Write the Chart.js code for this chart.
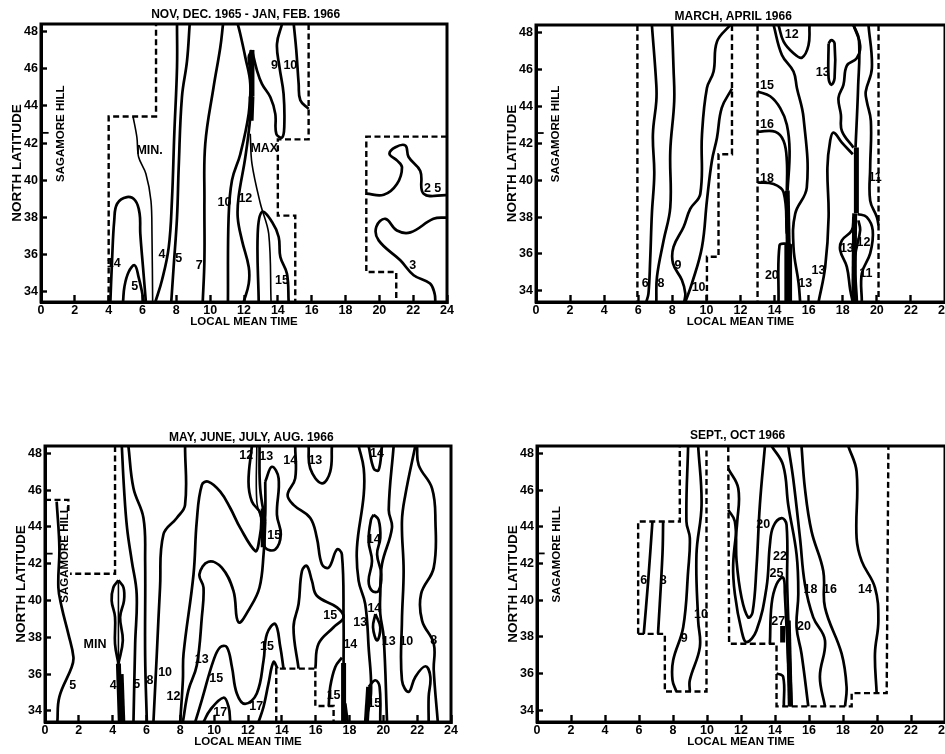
<!DOCTYPE html>
<html>
<head>
<meta charset="utf-8">
<title>Sagamore Hill</title>
<script src="https://cdn.jsdelivr.net/npm/chart.js@4"></script>
<style>
    html, body { margin: 0; padding: 0; background: #fff; overflow: hidden; width: 945px; height: 754px; }
    canvas { position: absolute; filter: blur(0.4px); }
</style>
</head>
<body>
<canvas id="chartWinter"></canvas>
<canvas id="chartSpring"></canvas>
<canvas id="chartSummer"></canvas>
<canvas id="chartAutumn"></canvas>
<script>
const hourTicks = [0, 2, 4, 6, 8, 10, 12, 14, 16, 18, 20, 22, 24];
const latTicks = [34, 36, 38, 40, 42, 44, 46, 48];
const sagamoreMark = [[0, 42.55], [0.45, 42.55]];

// Nov-Feb
const winterDashed = [
    [[4, 33.46], [4, 43.43], [6.8, 43.43], [6.8, 48.4]],
    [[15.82, 48.4], [15.82, 42.2], [14, 42.2], [14, 38.1], [15.03, 38.1], [15.03, 33.46]],
    [[24, 42.35], [19.23, 42.35], [19.23, 35.07], [21, 35.07], [21, 33.46]]
];
const winterThin = [
    [[5.44, 43.43], [5.67, 42.3], [5.77, 41.25], [6.2, 40.35], [6.5, 38.9], [6.56, 37.1], [6.6, 33.46]],
    [[12.37, 42.5], [12.47, 40.9], [12.97, 38.74], [13.46, 37.13], [13.6, 33.46]]
];
const winterLines = [
    [[4.1, 33.46], [4.2, 35.7], [4.33, 37.85], [4.5, 38.74], [5.08, 39.1], [5.58, 38.9], [5.83, 38.2], [5.87, 37.13], [6.03, 35.34], [6.2, 33.46]],
    [[4.85, 33.46], [4.93, 34.27], [5.18, 35.07], [5.54, 35.43], [5.77, 34.8], [5.97, 34], [6.07, 33.46]],
    [[6.76, 33.46], [7.15, 34.63], [7.55, 36.4], [7.74, 38.92], [7.88, 42.5], [8.04, 46.07], [8.04, 48.4]],
    [[7.7, 33.46], [7.84, 35.34], [8.04, 38], [8.14, 40.7], [8.33, 44.46], [8.63, 46.4], [8.79, 48.4]],
    [[9.56, 33.46], [9.66, 35.7], [9.66, 38.9], [9.71, 41.96], [10.2, 45], [10.6, 47.15], [10.76, 48.4]],
    [[11.05, 33.46], [11.09, 38], [11.29, 40], [11.78, 41.4], [12.28, 43.6], [12.37, 45.2], [12.08, 46.6], [11.78, 47.86], [11.63, 48.4]],
    [[11.98, 33.46], [12.28, 34.45], [12.28, 35.34], [11.88, 36.77], [11.63, 38], [11.68, 39.1], [12.08, 41.25], [12.37, 43.4], [12.47, 45.36], [12.28, 46.6], [12.47, 47]],
    [[12.47, 47], [12.77, 45.9], [13.06, 45.18], [13.56, 44.46], [13.85, 43.57], [13.91, 42.5], [14.25, 42.3], [14.38, 42.86], [14.34, 44.64], [14.1, 46.07], [13.95, 47.33], [14.25, 48.4]],
    [[14.94, 48.4], [15.09, 47], [15.23, 45.2], [15.33, 44.3], [15.82, 43.84]],
    [[12.87, 33.46], [12.81, 37.13], [13.06, 38.3], [13.66, 37.76], [14.05, 36.95], [14.15, 35.88], [14.54, 34.98], [14.64, 33.46]],
    [[19.23, 39.28], [20.26, 39.22], [21.04, 39.8], [21.34, 40.7], [21.04, 41.07], [20.6, 41.42], [20.95, 41.78], [21.54, 41.87], [21.73, 41.25], [22.42, 40.5], [22.62, 39.28], [24, 39.2]],
    [[24, 38], [23.2, 37.93], [21.84, 37.2], [21.04, 37.3], [20.36, 37.93], [19.82, 37.5], [19.96, 36.77], [21.24, 35.7], [22.03, 34.9], [23, 34.45], [23.27, 33.9], [23.31, 33.46]]
];
const winterThick = [
    [[12.47, 47], [12.47, 44.5]],
    [[12.47, 44.5], [12.42, 43.2]]
];
const winterLabels = [
    ['14', 4.3, 35.5], ['5', 5.54, 34.27], ['4', 7.15, 36.02], ['5', 8.14, 35.79], ['7', 9.36, 35.43],
    ['10', 10.84, 38.79], ['12', 12.08, 39], ['9', 13.8, 46.16], ['10', 14.74, 46.16], ['15', 14.25, 34.59],
    ['2 5', 23.15, 39.58], ['3', 21.97, 35.4], ['MIN.', 6.42, 41.6], ['MAX', 13.2, 41.7],
    ['NOV, DEC. 1965 - JAN, FEB. 1966', 12.1, 48.88]
];

// Mar-Apr
const springDashed = [
    [[5.95, 48.4], [5.95, 33.4]],
    [[11.5, 48.4], [11.5, 41.4], [10.71, 41.4], [10.71, 35.85], [10.03, 35.85], [10.03, 33.4]],
    [[13, 48.4], [13, 33.4]],
    [[20.1, 48.4], [20.1, 33.4]]
];
const springThin = [];
const springLines = [
    [[6.8, 48.4], [7.06, 45.16], [7.06, 44.27], [6.86, 42.48], [6.94, 40.33], [6.8, 38.18], [6.7, 35.67], [6.6, 33.87], [6.47, 33.4]],
    [[7.98, 48.4], [8.07, 46.06], [8.11, 44.27], [7.88, 41.58], [7.88, 38.53], [7.49, 36.74], [7.1, 34.77], [7.06, 33.4]],
    [[11.4, 48.4], [10.62, 47.5], [10.42, 45.88], [10.03, 44.99], [9.74, 42.48], [9.64, 39.25], [9.05, 38.44], [8.66, 37.46], [8.07, 36.38], [8.04, 35.49], [8.56, 34.59], [8.76, 33.87], [8.7, 33.4]],
    [[11.5, 44.95], [10.9, 43.91], [10.62, 42.3], [10.32, 41.04], [10.03, 38.89], [9.74, 36.38], [9.15, 34.41], [8.76, 33.4]],
    [[14.23, 48.4], [14.53, 47.5], [15.11, 46.87], [15.6, 46.63], [15.99, 47.3], [16.05, 48.4]],
    [[13, 44.8], [13.74, 44.54], [14.33, 43.9], [14.72, 43], [14.88, 41.58], [14.76, 39.43]],
    [[13, 42.62], [14.04, 42.62], [14.53, 42.12], [14.72, 41.04], [14.72, 39.43]],
    [[13, 39.88], [13.94, 39.79], [14.53, 39.34], [14.72, 37.1]],
    [[14.23, 33.4], [14.29, 36.47], [14.62, 36.56], [15, 36.47]],
    [[13.94, 48.4], [14.43, 46.78], [15.11, 45.88], [15.31, 44.99], [15.7, 43.37], [15.89, 39.6], [15.21, 38.18], [15.11, 36.38], [15.41, 34.41], [15.5, 33.4]],
    [[17.17, 47.4], [17.33, 47.58], [17.52, 47.4], [17.52, 45.52], [17.33, 45.16], [17.17, 45.52], [17.17, 47.4]],
    [[16.58, 33.4], [16.97, 35.3], [17.17, 38], [17.1, 40.68], [17.26, 42.12], [17.46, 42.57], [17.95, 42.03], [18.59, 41.4]],
    [[18.63, 48.4], [19.02, 47.3], [18.82, 46.6], [18.24, 46.2], [18.04, 45.16], [17.75, 44.45], [17.89, 43.55], [17.95, 42.66], [18.63, 41.76]],
    [[18.63, 48.4], [18.95, 47.6], [18.9, 45], [18.75, 41.76]],
    [[19.51, 48.4], [19.71, 46.06], [19.35, 44.8], [19.41, 44.27], [19.65, 43.2], [19.61, 40.68], [19.61, 38.89], [20, 38], [20.1, 37.55]],
    [[18.87, 38.17], [19.41, 38], [19.76, 37.28], [19.61, 36.03], [19.12, 34.95], [19.12, 33.4]],
    [[18.92, 37.82], [19.02, 37.28], [18.73, 35.85], [18.83, 33.4]],
    [[18.63, 38], [18.53, 37.28], [17.95, 36.74], [17.85, 36.2], [18.24, 35.3], [18.44, 34.05], [18.59, 33.4]]
];
const springThick = [
    [[14.72, 36.5], [14.72, 33.4]],
    [[14.88, 36.5], [14.88, 33.4]],
    [[14.74, 39.43], [14.8, 36.5]],
    [[18.8, 41.76], [18.8, 38.2]],
    [[18.7, 38.2], [18.65, 33.4]]
];
const springLabels = [
    ['6', 6.41, 34.38], ['8', 7.33, 34.41], ['9', 8.33, 35.36], ['10', 9.54, 34.2], ['15', 13.55, 45.11],
    ['16', 13.55, 43.01], ['18', 13.55, 40.06], ['12', 15.01, 47.89], ['13', 16.83, 45.85], ['20', 13.84, 34.81],
    ['13', 15.8, 34.38], ['13', 16.58, 35.09], ['13', 18.24, 36.29], ['12', 19.22, 36.6], ['11', 19.35, 34.95],
    ['11', 19.9, 40.15], ['MARCH, APRIL 1966', 11.57, 48.85]
];

// May-Aug
const summerDashed = [
    [[0, 45.47], [1.38, 45.47], [1.38, 44.8]],
    [[4.14, 48.4], [4.14, 41.46], [1.48, 41.46]],
    [[13.67, 33.4], [13.67, 36.3], [15.98, 36.3], [15.98, 34.27], [17.06, 34.27], [17.06, 33.4]]
];
const summerThin = [
    [[4.34, 41.1], [4.34, 36.57]],
    [[12.52, 48.4], [12.52, 45.38], [12.82, 44.31]]
];
const summerLines = [
    [[0.73, 33.4], [0.85, 34.77], [1.58, 36.39], [1.68, 36.93], [1.38, 38.19], [0.99, 39.63], [0.79, 40.71], [0.85, 42.87], [0.69, 45.38]],
    [[4.34, 41.1], [4.64, 40.71], [4.67, 40], [4.44, 39.1], [4.6, 37.83], [4.34, 36.57]],
    [[4.34, 41.1], [4.04, 40.71], [3.94, 40], [4.14, 39.1], [4.14, 37.65], [4.34, 36.57]],
    [[4.54, 48.4], [4.67, 46.1], [4.85, 43.95], [5.13, 42.15], [5.42, 40.35], [5.33, 37.65], [5.23, 33.4]],
    [[4.93, 48.4], [5.23, 46.1], [5.82, 44.49], [5.92, 42.15], [5.92, 37], [6.02, 33.4]],
    [[8.28, 48.4], [8.28, 45.2], [7.79, 44.49], [7, 43.59], [6.8, 40.71], [6.61, 37.11], [6.41, 33.4]],
    [[7.99, 33.4], [8.15, 35.67], [8.19, 37.11], [8.78, 41.43], [8.97, 44.3], [9.27, 46.28], [9.66, 46.46], [10.36, 45.92], [10.95, 45.03], [11.54, 43.95], [12.43, 42.69], [12.62, 43.05], [12.76, 44.67], [12.23, 45.38], [12.03, 46.46], [12.23, 48.4]],
    [[8.15, 33.4], [8.48, 35.13], [8.97, 36.47], [9.27, 39.09], [9.37, 40.71], [9.13, 41.43], [9.66, 42.11], [10.45, 41.79], [11.14, 40.53], [11.44, 38.82], [12.13, 39.63], [12.68, 40.71], [12.92, 42.51], [13.02, 44.31]],
    [[8.88, 33.4], [9.27, 34.59], [9.96, 36.75], [10.36, 37.47], [10.75, 37.47], [11.05, 36.39], [11.34, 34.95], [11.83, 34.38], [12.52, 34.95], [12.92, 36.75], [13.12, 38.19], [13.61, 38.73], [13.91, 37.47], [14.1, 36.3]],
    [[9.37, 33.4], [9.76, 34.05], [10.55, 34.72], [10.85, 34.23], [10.95, 33.4]],
    [[12.62, 33.4], [12.92, 34.23], [13.21, 35.49], [13.51, 36.66], [13.75, 36.3]],
    [[12.68, 48.4], [12.72, 46.1], [13.02, 44.31]],
    [[13.02, 46.46], [13.41, 47.27], [13.81, 46.64], [13.71, 44.67], [13.94, 43.59], [13.61, 42.78], [13.02, 42.87], [12.92, 43.59], [13.02, 44.67], [13.02, 46.46]],
    [[14.79, 48.4], [14.79, 46.64], [14.34, 45.74], [14.69, 45.2], [15.68, 44.49], [16.07, 43.41], [16.37, 41.97], [16.77, 41.79], [17.26, 42.78], [17.55, 42.51], [17.65, 38.91], [17.65, 36.6]],
    [[14.99, 36.3], [14.69, 38.55], [14.99, 39.81], [15.19, 41.61], [15.48, 41.88], [15.78, 41.07], [16.07, 40.26], [17.26, 39.63], [17.65, 39.09], [17.06, 38.55], [16.17, 37.65], [15.98, 36.3]],
    [[15.58, 48.4], [15.68, 47.18], [16.37, 46.37], [16.86, 47], [16.96, 48.4]],
    [[16.77, 34.23], [16.86, 35.31], [17.16, 36.39], [17.55, 36.9]],
    [[17.75, 34.41], [17.89, 33.4]],
    [[18.54, 48.4], [18.84, 47.18], [18.84, 45.74], [18.44, 42.87], [18.54, 41.07], [18.93, 39.81], [19.13, 37.47], [19.27, 34.95], [18.93, 33.4]],
    [[19.13, 48.4], [19.43, 47.18], [19.72, 47.09], [19.92, 48.4]],
    [[20.61, 48.4], [20.32, 44.94], [20.51, 43.95], [19.92, 41.97], [19.82, 40.35], [19.82, 39.27], [20.02, 38.01], [20.22, 33.4]],
    [[21.89, 48.4], [21.3, 45.74], [21.1, 44.31], [21.2, 41.61], [21.1, 38.91], [21.1, 35.67], [21.5, 35.04], [21.89, 35.85], [22.49, 36.43], [22.78, 35.85], [22.68, 34.77], [22.68, 33.4]],
    [[21.99, 48.4], [22.09, 47.36], [22.88, 46.1], [23.08, 44.31], [22.98, 41.79], [22.23, 40.35], [22.29, 38.91], [22.98, 37.65], [22.98, 36.21], [23.22, 33.4]],
    [[19.43, 44.67], [19.72, 44.39], [19.82, 43.41], [19.63, 42.51], [19.88, 41.43], [19.72, 40.53], [19.33, 40.53], [19.13, 41.07], [19.33, 42.15], [19.13, 43.23], [19.27, 44.39], [19.43, 44.67]],
    [[19.53, 39.27], [19.82, 38.55], [19.63, 37.83], [19.39, 38.55], [19.53, 39.27]],
    [[19.13, 35.31], [19.53, 35.67], [19.78, 35.31], [19.82, 33.4]]
];
const summerThick = [
    [[4.34, 36.57], [4.45, 33.4]],
    [[4.5, 36], [4.6, 33.4]],
    [[12.9, 45], [12.9, 42.9]],
    [[17.65, 36.6], [17.65, 33.4]],
    [[19.13, 35.31], [19, 33.4]]
];
const summerLabels = [
    ['12', 11.89, 47.9], ['13', 13.08, 47.81], ['14', 14.5, 47.63], ['13', 15.98, 47.63], ['14', 19.63, 47.99],
    ['15', 13.55, 43.55], ['14', 19.43, 43.32], ['15', 16.86, 39.18], ['14', 19.47, 39.59], ['13', 18.64, 38.82],
    ['14', 18.05, 37.62], ['13', 20.32, 37.79], ['10', 21.36, 37.79], ['8', 22.98, 37.83], ['15', 13.12, 37.51],
    ['13', 9.27, 36.79], ['15', 10.12, 35.76], ['10', 7.1, 36.09], ['8', 6.21, 35.67], ['5', 5.42, 35.46],
    ['4', 4.04, 35.4], ['12', 7.59, 34.81], ['17', 10.36, 33.91], ['17', 12.49, 34.23], ['15', 17.06, 34.83],
    ['15', 19.47, 34.41], ['5', 1.64, 35.4], ['MIN', 2.96, 37.62], ['MAY, JUNE, JULY, AUG. 1966', 12.2, 48.85]
];

// Sep-Oct
const autumnDashed = [
    [[5.95, 38.17], [5.95, 44.29], [8.4, 44.29], [8.4, 48.4]],
    [[5.95, 38.17], [7.52, 38.17], [7.52, 35.03], [9.97, 35.03], [9.97, 48.4]],
    [[11.25, 48.4], [11.3, 37.63], [14.09, 37.63], [14.09, 34.22], [18.51, 34.22], [18.51, 34.94], [20.57, 34.94], [20.67, 48.4]]
];
const autumnThin = [];
const autumnLines = [
    [[6.28, 38.17], [6.54, 41.05], [6.79, 44.29]],
    [[7.12, 38.17], [7.38, 42.49], [7.42, 44.29]],
    [[8.89, 48.4], [8.79, 44.29], [8.99, 43.39], [8.89, 41.59], [8.6, 38.53], [8.01, 36.73], [7.97, 35.65], [8.2, 35.03]],
    [[9.48, 48.4], [9.68, 45.19], [9.38, 42.49], [9.48, 38.89], [9.58, 37.45], [8.99, 35.65], [8.99, 35.03]],
    [[11.25, 44.92], [11.64, 44.29], [11.74, 42.13], [12.03, 40.15], [12.42, 39.07], [12.68, 39.34], [12.91, 41.77], [13.11, 45.19], [13.41, 48.4]],
    [[11.25, 47.17], [11.84, 46.09], [11.78, 44.29], [11.54, 41.95], [11.64, 40.33], [12.03, 38.35], [12.33, 37.72], [12.91, 38.35], [13.5, 40.69], [13.7, 43.03], [13.9, 44.02], [14.39, 44.47], [14.68, 44.11], [14.72, 40.69], [14.98, 34.22]],
    [[13.8, 48.4], [14.48, 47.35], [14.78, 45.19], [15.27, 42.49], [15.37, 40.33], [15.27, 38.53], [15.56, 37.09], [15.96, 34.22]],
    [[14.78, 48.4], [15.07, 46.63], [15.47, 43.39], [15.76, 40.87], [16.25, 39.07], [16.94, 37.81], [16.64, 35.83], [16.94, 34.22]],
    [[15.56, 48.4], [15.76, 46.09], [16.15, 43.75], [16.84, 41.59], [16.94, 39.61], [17.92, 37.09], [18.21, 35.29], [18.12, 34.22]],
    [[18.31, 48.4], [18.8, 47], [18.8, 43.39], [19.1, 42.13], [19.88, 40.69], [20.08, 38.89], [19.88, 37.09], [19.98, 34.94]],
    [[13.7, 37.63], [13.8, 39.79], [14.09, 40.87], [14.48, 41.23], [14.58, 40.33], [14.9, 34.22]],
    [[14.09, 36.02], [14.48, 35.83], [14.52, 34.22]]
];
const autumnThick = [
    [[14.78, 38.9], [14.9, 34.22]],
    [[14.45, 38.6], [14.45, 37.7]]
];
const autumnLabels = [
    ['6', 6.28, 41.09], ['8', 7.42, 41.09], ['9', 8.66, 37.9], ['10', 9.64, 39.2], ['20', 13.31, 44.11],
    ['22', 14.29, 42.4], ['25', 14.09, 41.45], ['27', 14.19, 38.86], ['20', 15.7, 38.57], ['18', 16.09, 40.6],
    ['16', 17.23, 40.6], ['14', 19.29, 40.6], ['SEPT., OCT 1966', 11.8, 48.95]
];

const fontFamily = '"Liberation Sans", Arial, sans-serif';

// contour numbers, titles and the station name, placed on the data scales
const textPlugin = {
    id: 'panelText',
    afterDraw(chart, args, opts) {
        const { ctx, chartArea, scales } = chart;
        ctx.save();
        ctx.strokeStyle = '#000';
        ctx.lineWidth = 3;
        ctx.strokeRect(chartArea.left, chartArea.top, chartArea.width, chartArea.height);
        ctx.fillStyle = '#000';
        ctx.textAlign = 'center';
        ctx.textBaseline = 'middle';
        opts.labels.forEach(l => {
            ctx.font = (l[0].length > 4 ? 'bold 12px ' : 'bold 12.5px ') + fontFamily;
            ctx.fillText(l[0], scales.x.getPixelForValue(l[1]), scales.y.getPixelForValue(l[2]));
        });
        ctx.font = 'bold 11.5px ' + fontFamily;
        ctx.translate(scales.x.getPixelForValue(1.16), scales.y.getPixelForValue(42.5));
        ctx.rotate(-Math.PI / 2);
        ctx.fillText('SAGAMORE HILL', 0, 0);
        ctx.restore();
    }
};

function lineSets(groups, width, dash, tension) {
    return groups.map(pts => ({
        data: pts.map(p => ({ x: p[0], y: p[1] })),
        showLine: true,
        borderColor: '#000',
        borderWidth: width,
        borderDash: dash,
        tension: tension,
        pointRadius: 0,
        fill: false
    }));
}

function drawPanel(id, box, latMin, dashed, thin, lines, thick, labels) {
    const el = document.getElementById(id);
    const gapLeft = 40, gapTop = 24, gapRight = 20, gapBottom = 32;
    el.width = box.right - box.left + gapLeft + gapRight;
    el.height = box.bottom - box.top + gapTop + gapBottom;
    el.style.left = (box.left - gapLeft) + 'px';
    el.style.top = (box.top - gapTop) + 'px';

    new Chart(el, {
        type: 'scatter',
        data: {
            datasets: [
                ...lineSets(dashed, 2.4, [6, 3.5], 0),
                ...lineSets(thin, 1.6, [], 0.35),
                ...lineSets(lines, 2.7, [], 0.4),
                ...lineSets(thick, 5, [], 0),
                ...lineSets([sagamoreMark], 1.8, [], 0)
            ]
        },
        options: {
            responsive: false,
            animation: false,
            layout: { autoPadding: false, padding: { top: gapTop, right: gapRight, left: 0, bottom: 0 } },
            plugins: { legend: { display: false }, tooltip: { enabled: false }, panelText: { labels: labels } },
            scales: {
                x: {
                    type: 'linear', min: 0, max: 24,
                    afterBuildTicks: s => { s.ticks = hourTicks.map(v => ({ value: v })); },
                    afterFit: s => { s.height = gapBottom; },
                    grid: { drawOnChartArea: false, tickLength: -7, tickWidth: 2.4, tickColor: '#000' },
                    border: { color: '#000', width: 3 },
                    ticks: { color: '#000', font: { family: 'Liberation Sans', size: 12.5, weight: 'bold' }, padding: 8, maxRotation: 0, autoSkip: false },
                    title: { display: true, text: 'LOCAL MEAN TIME', color: '#000', font: { family: 'Liberation Sans', size: 11.5, weight: 'bold' }, padding: { top: 0, bottom: 5 } }
                },
                y: {
                    type: 'linear', min: latMin, max: 48.4,
                    afterBuildTicks: s => { s.ticks = latTicks.map(v => ({ value: v })); },
                    afterFit: s => { s.width = gapLeft; },
                    grid: { drawOnChartArea: false, tickLength: -6, tickWidth: 2.4, tickColor: '#000' },
                    border: { color: '#000', width: 3 },
                    ticks: { color: '#000', font: { family: 'Liberation Sans', size: 12.5, weight: 'bold' }, padding: 9, autoSkip: false },
                    title: { display: true, text: 'NORTH LATITUDE', color: '#000', font: { family: 'Liberation Sans', size: 13.5, weight: 'bold' }, padding: { top: 8, bottom: 0 } }
                }
            }
        },
        plugins: [textPlugin]
    });
}

drawPanel('chartWinter', { left: 41, right: 447, top: 24, bottom: 302 }, 33.46, winterDashed, winterThin, winterLines, winterThick, winterLabels);
drawPanel('chartSpring', { left: 536, right: 945, top: 25, bottom: 302 }, 33.4, springDashed, springThin, springLines, springThick, springLabels);
drawPanel('chartSummer', { left: 45, right: 451, top: 446, bottom: 722 }, 33.4, summerDashed, summerThin, summerLines, summerThick, summerLabels);
drawPanel('chartAutumn', { left: 537, right: 945, top: 446, bottom: 722 }, 33.37, autumnDashed, autumnThin, autumnLines, autumnThick, autumnLabels);
</script>
</body>
</html>
